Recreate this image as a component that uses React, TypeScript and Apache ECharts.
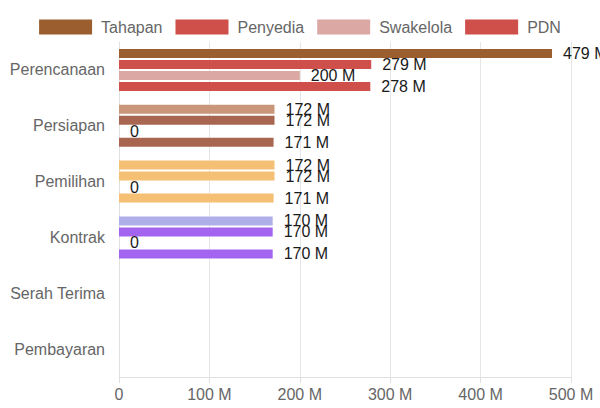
import React, { useEffect, useRef } from "react";
import * as echarts from "echarts";

const categories = ["Perencanaan", "Persiapan", "Pemilihan", "Kontrak", "Serah Terima", "Pembayaran"];
const seriesNames = ["Tahapan", "Penyedia", "Swakelola", "PDN"];
// values in millions (M)
const tahapan = [479, 172, 172, 170, null, null];
const penyedia = [279, 172, 172, 170, null, null];
const swakelola = [200, 0, 0, 0, null, null];
const pdn = [278, 171, 171, 170, null, null];
const xTicks = [0, 100, 200, 300, 400, 500];

const tahapanColors = ["#9b5f2f", "#c9967a", "#f5bf74", "#aeaee9", "#9b5f2f", "#9b5f2f"];
const penyediaColors = ["#cf4f4b", "#a86650", "#f5bf74", "#a365f0", "#cf4f4b", "#cf4f4b"];
const swakelolaColors = ["#dba8a4", "#dba8a4", "#dba8a4", "#dba8a4", "#dba8a4", "#dba8a4"];
const pdnColors = ["#cf4f4b", "#a86650", "#f5bf74", "#a365f0", "#cf4f4b", "#cf4f4b"];

const FONT = "'Liberation Sans', Arial, sans-serif";

export default function App() {
  const ref = useRef<HTMLDivElement>(null);
  useEffect(() => {
    if (!ref.current) return;
    const chart = echarts.init(ref.current, undefined, { renderer: "svg" });
    const allData = [tahapan, penyedia, swakelola, pdn];
    const allColors = [tahapanColors, penyediaColors, swakelolaColors, pdnColors];
    const series = seriesNames.map((name, si) => ({
      name,
      type: "bar",
      barWidth: 9,
      barGap: "22%",
      itemStyle: { color: allColors[si][0] },
      label: {
        show: true,
        position: "right",
        distance: 11,
        color: "#1a1a1a",
        fontSize: 16,
        fontFamily: FONT,
        formatter: (p: any) => (p.value === 0 ? "0" : `${p.value} M`),
      },
      data: allData[si].map((v, ci) => ({
        value: v,
        itemStyle: { color: allColors[si][ci] },
      })),
    }));
    chart.setOption({
      animation: false,
      legend: {
        top: 14,
        left: "center",
        itemWidth: 53,
        itemHeight: 15,
        itemGap: 13,
        icon: "rect",
        textStyle: { color: "#666", fontSize: 16, fontFamily: FONT, padding: [0, 0, 0, 4] },
        data: seriesNames,
      },
      grid: { left: 119, right: 29, top: 42, bottom: 31, containLabel: false },
      xAxis: {
        type: "value",
        min: xTicks[0],
        max: xTicks[xTicks.length - 1],
        interval: 100,
        axisLine: { show: true, lineStyle: { color: "#e0e0e0" } },
        axisTick: { show: true, length: 6, lineStyle: { color: "#e0e0e0" } },
        splitLine: { show: true, lineStyle: { color: "#e6e6e6" } },
        axisLabel: {
          color: "#666",
          fontSize: 16,
          fontFamily: FONT,
          margin: 9,
          formatter: (v: number) => (v === 0 ? "0" : `${v} M`),
        },
      },
      yAxis: {
        type: "category",
        inverse: true,
        data: categories,
        axisLine: { show: true, lineStyle: { color: "#e0e0e0" } },
        axisTick: { show: false },
        axisLabel: { color: "#666", fontSize: 16, fontFamily: FONT, margin: 14 },
      },
      series,
    });
    return () => chart.dispose();
  }, []);
  return (
    <div
      ref={ref}
      style={{ position: "fixed", left: 0, top: 0, width: 600, height: 408, background: "#fff" }}
    />
  );
}
